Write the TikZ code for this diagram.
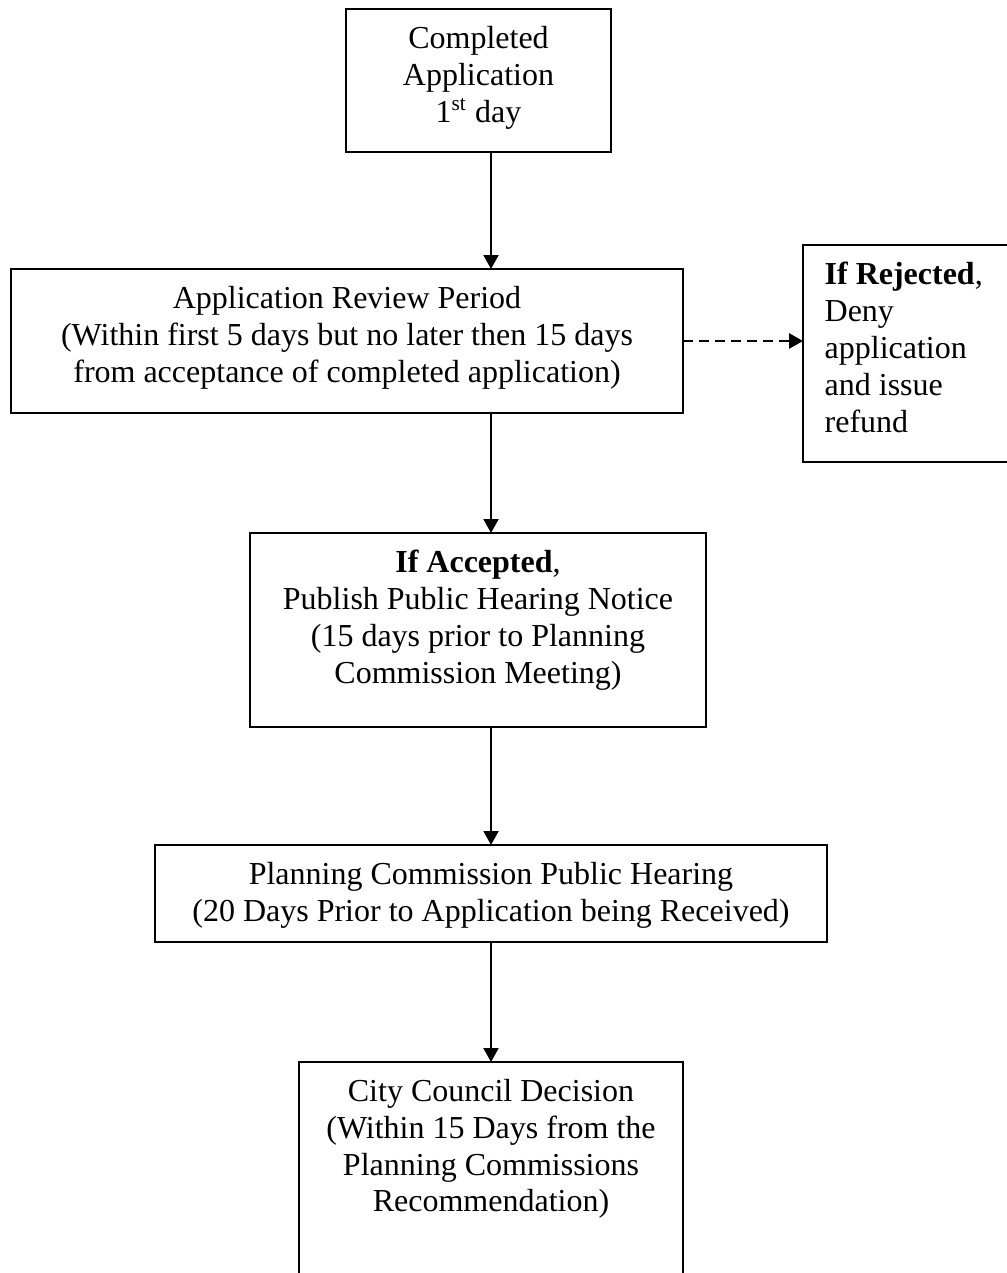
\documentclass[tikz,border=0pt]{standalone}
\usepackage{fontspec}
\setmainfont{Liberation Serif}
\usepackage{tikz}
\usetikzlibrary{positioning}
\usetikzlibrary{arrows.meta}

\tikzset{
  stagebox/.style={draw, line width=0.8pt, inner sep=0pt, outer sep=0pt},
  stagetext/.style={inner sep=0pt, align=center, font=\fontsize{12pt}{13.8pt}\selectfont},
  flowarrow/.style={line width=0.7pt, -{Triangle[length=5.2pt,width=5.6pt]}},
  rejectarrow/.style={line width=0.9pt, dash pattern=on 3.6pt off 2.4pt, -{Triangle[length=5.2pt,width=5.6pt]}}
}

\begin{document}
\begin{tikzpicture}[x=0.375pt,y=0.375pt,yscale=-1,xscale=1]
            % page size of the diagram, the last two boxes run off the page
            \clip (0,0) rectangle (1007,1273);

            %Shape: Rectangle [completed application]
            \node (start) [stagebox, minimum width=99.4pt, minimum height=53.6pt] at (478.5,80.5) {};
            %Shape: Rectangle [review period]
            \node (review) [stagebox, minimum width=252pt, minimum height=54pt] at (347,341) {};
            %Shape: Rectangle [rejected]
            \node (reject) [stagebox, minimum width=85.1pt, minimum height=81.4pt] at (916.5,353.5) {};
            %Shape: Rectangle [accepted]
            \node (accept) [stagebox, minimum width=171pt, minimum height=72.75pt] at (478,630) {};
            %Shape: Rectangle [hearing]
            \node (hearing) [stagebox, minimum width=252pt, minimum height=36.4pt] at (491,893.5) {};
            %Shape: Rectangle [decision]
            \node (decision) [stagebox, minimum width=144pt, minimum height=89.25pt] at (491,1181) {};

            % Text Node
            \node (startlbl) [stagetext, below=6.3pt of start.north] {Completed\\Application\\1\textsuperscript{st} day};
            % Text Node
            \node (reviewlbl) [stagetext, below=6.3pt of review.north] {Application Review Period\\(Within first 5 days but no later then 15 days\\from acceptance of completed application)};
            % Text Node
            \node (rejectlbl) [stagetext, align=left, below right=6.3pt and 7.9pt of reject.north west] {\textbf{If Rejected},\\Deny\\application\\and issue\\refund};
            % Text Node
            \node (acceptlbl) [stagetext, below=6.3pt of accept.north] {\textbf{If Accepted},\\Publish Public Hearing Notice\\(15 days prior to Planning\\Commission Meeting)};
            % Text Node
            \node (hearinglbl) [stagetext, below=6.3pt of hearing.north] {Planning Commission Public Hearing\\(20 Days Prior to Application being Received)};
            % Text Node
            \node (decisionlbl) [stagetext, below=6.3pt of decision.north] {City Council Decision\\(Within 15 Days from the\\Planning Commissions\\Recommendation)};

            %Straight Lines [flow down the page]
            \draw [flowarrow] (start.south -| hearing.north) -- (review.north -| hearing.north);
            \draw [flowarrow] (review.south -| hearing.north) -- (accept.north -| hearing.north);
            \draw [flowarrow] (accept.south -| hearing.north) -- (hearing.north);
            \draw [flowarrow] (hearing.south) -- (decision.north);
            %Straight Lines [dashed, to rejection]
            \draw [rejectarrow] (review.east) -- (review.east -| reject.west);

\end{tikzpicture}
\end{document}
